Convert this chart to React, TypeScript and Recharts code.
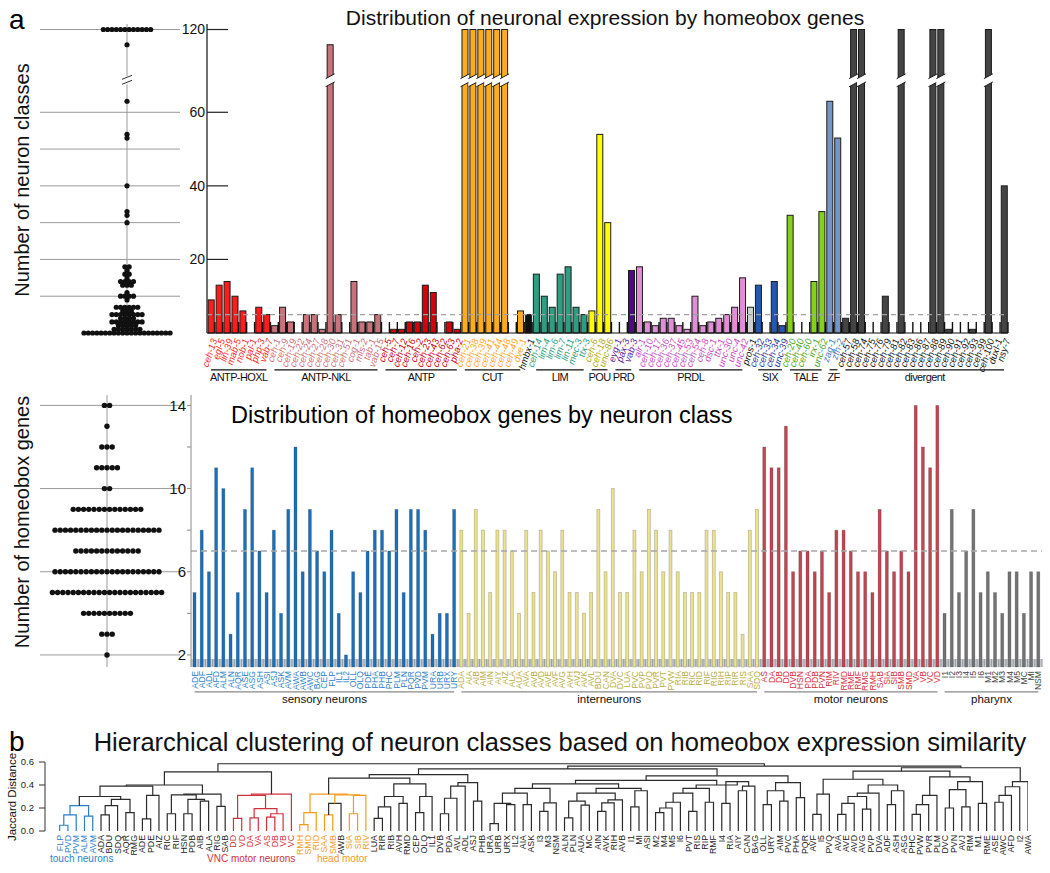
import React from 'react';
import {
  BarChart, Bar, XAxis, YAxis, ReferenceLine, ReferenceArea, ReferenceDot,
  ScatterChart, Scatter,
} from 'recharts';

const FONT = '"Liberation Sans", Arial, Helvetica, sans-serif';

// ---------------- Panel a : homeobox genes ----------------
const antpHoxlGenes = ['ceh-13', 'egl-5', 'lin-39', 'mab-5', 'nob-1', 'pal-1', 'php-3', 'vab-7'];
const antpHoxlCounts = [9, 13, 14, 10, 6, 0, 7, 5];
const antpNklGenes = ['ceh-1', 'ceh-9', 'ceh-19', 'ceh-22', 'ceh-24', 'ceh-27', 'ceh-28', 'ceh-30', 'ceh-31', 'ceh-51', 'cog-1', 'mls-2', 'tab-1', 'vab-15'];
const antpNklCounts = [2, 7, 3, 0, 5, 5, 1, 107, 5, 0, 14, 3, 3, 5];
const antpGenes = ['ceh-5', 'ceh-7', 'ceh-12', 'ceh-16', 'ceh-2', 'ceh-23', 'ceh-43', 'ceh-62', 'ceh-63', 'pha-2'];
const antpCounts = [0, 1, 1, 3, 3, 13, 11, 0, 3, 1];
const cutGenes = ['ceh-21', 'ceh-38', 'ceh-39', 'ceh-41', 'ceh-44', 'ceh-48', 'ceh-49', 'dve-1'];
const cutCounts = [120, 120, 120, 120, 120, 120, 0, 6];
const hmbxGenes = ['hmbx-1'];
const hmbxCounts = [5];
const limGenes = ['ceh-14', 'lim-4', 'lim-6', 'lim-7', 'lin-11', 'mec-3', 'ttx-3'];
const limCounts = [16, 10, 7, 16, 18, 7, 5];
const pouGenes = ['ceh-6', 'ceh-18', 'unc-86'];
const pouCounts = [6, 54, 30];
const prdGenes = ['eyg-1', 'pax-3', 'vab-3'];
const prdCounts = [0, 0, 17];
const prdlGenes = ['alr-1', 'ceh-10', 'ceh-17', 'ceh-36', 'ceh-37', 'ceh-45', 'ceh-53', 'ceh-54', 'ceh-8', 'dsc-1', 'ttx-1', 'unc-30', 'unc-4', 'unc-42'];
const prdlCounts = [18, 3, 2, 4, 4, 2, 1, 10, 2, 3, 4, 5, 7, 15];
const prosGenes = ['pros-1'];
const prosCounts = [7];
const sixGenes = ['ceh-32', 'ceh-33', 'ceh-34', 'unc-39'];
const sixCounts = [13, 0, 14, 2];
const taleGenes = ['ceh-20', 'ceh-40', 'ceh-60', 'irx-1', 'unc-62'];
const taleCounts = [32, 0, 0, 14, 33];
const zfGenes = ['zag-1', 'zfh-2'];
const zfCounts = [63, 53];
const divergentGenes = ['ceh-57', 'ceh-58', 'ceh-74', 'ceh-75', 'ceh-76', 'ceh-79', 'ceh-81', 'ceh-82', 'ceh-83', 'ceh-86', 'ceh-87', 'ceh-88', 'ceh-89', 'ceh-90', 'ceh-91', 'ceh-92', 'ceh-93', 'ceh-99', 'ceh-100', 'duxl-1', 'nsy-7'];
const divergentCounts = [4, 120, 120, 0, 0, 10, 0, 120, 0, 0, 0, 120, 120, 1, 0, 0, 1, 0, 120, 0, 40];

const geneGroups = [
  { family: 'ANTP-HOXL', genes: antpHoxlGenes, counts: antpHoxlCounts, bar: '#ff1c1c', text: '#ff2626' },
  { family: 'ANTP-NKL', genes: antpNklGenes, counts: antpNklCounts, bar: '#c8737c', text: '#c9717c' },
  { family: 'ANTP', genes: antpGenes, counts: antpCounts, bar: '#d6000c', text: '#c8000c' },
  { family: 'CUT', genes: cutGenes, counts: cutCounts, bar: '#ffab1e', text: '#ffa51e' },
  { family: '', genes: hmbxGenes, counts: hmbxCounts, bar: '#111111', text: '#111111' },
  { family: 'LIM', genes: limGenes, counts: limCounts, bar: '#2e9e82', text: '#2e9e82' },
  { family: 'POU', genes: pouGenes, counts: pouCounts, bar: '#ffff00', text: '#b0aa10' },
  { family: 'PRD', genes: prdGenes, counts: prdCounts, bar: '#4c0a86', text: '#5e1898' },
  { family: 'PRDL', genes: prdlGenes, counts: prdlCounts, bar: '#df8fd4', text: '#c54cc0' },
  { family: '', genes: prosGenes, counts: prosCounts, bar: '#cfcfcf', text: '#111111' },
  { family: 'SIX', genes: sixGenes, counts: sixCounts, bar: '#2457b0', text: '#27389a' },
  { family: 'TALE', genes: taleGenes, counts: taleCounts, bar: '#84d01c', text: '#4ba62a' },
  { family: 'ZF', genes: zfGenes, counts: zfCounts, bar: '#7596c4', text: '#4f7cc0' },
  { family: 'divergent', genes: divergentGenes, counts: divergentCounts, bar: '#444444', text: '#111111' },
];

const topGridValues = [10, 20, 30, 40, 50, 60, 120];
const topTickValues = [20, 40, 60, 120];

// broken axis: linear to 65, compressed above
const toDisp = (v: number) => (v <= 65 ? v : 65 + (v - 65) * (17.5 / 55));
const fromDisp = (d: number) => (d <= 65 ? d : 65 + (d - 65) * (55 / 17.5));
const BREAK_LO = 67.6;
const BREAK_HI = 69.8;

const geneRows = geneGroups.flatMap((g) =>
  g.genes.map((name, i) => ({ name, count: g.counts[i], disp: toDisp(g.counts[i]), bar: g.bar, text: g.text })),
);
const geneByName: Record<string, any> = Object.fromEntries(geneRows.map((r) => [r.name, r]));

// ---------------- Panel a : neuron classes ----------------
const sensoryNeurons = ['ADE', 'ADF', 'ADL', 'AFD', 'ALM', 'ALN', 'AQR', 'ASE', 'ASG', 'ASH', 'ASI', 'ASJ', 'ASK', 'AVM', 'AWA', 'AWB', 'AWC', 'BAG', 'CEP', 'FLP', 'IL1', 'IL2', 'OLL', 'OLQ', 'PDE', 'PHA', 'PHB', 'PHC', 'PLM', 'PLN', 'PQR', 'PVD', 'PVM', 'URA', 'URB', 'URX', 'URY'];
const sensoryGenes = [5, 8, 6, 11, 10, 3, 5, 9, 11, 7, 5, 8, 4, 9, 12, 6, 9, 7, 6, 8, 4, 2, 6, 5, 7, 8, 8, 7, 9, 5, 9, 9, 8, 3, 4, 4, 9];
const interNeurons = ['ADA', 'AIA', 'AIB', 'AIM', 'AIN', 'AIY', 'AIZ', 'ALA', 'AUA', 'AVA', 'AVB', 'AVD', 'AVE', 'AVF', 'AVG', 'AVH', 'AVJ', 'AVK', 'AVL', 'BDU', 'CAN', 'DVA', 'DVC', 'LUA', 'PVC', 'PVP', 'PVQ', 'PVR', 'PVT', 'PVW', 'RIA', 'RIB', 'RIC', 'RID', 'RIF', 'RIG', 'RIH', 'RIP', 'RIR', 'RIS', 'SAA', 'SDQ'];
const interGenes = [8, 4, 9, 8, 5, 8, 8, 7, 4, 8, 5, 8, 7, 6, 8, 5, 5, 4, 5, 9, 6, 10, 5, 5, 8, 6, 9, 8, 6, 8, 6, 5, 5, 5, 8, 8, 6, 5, 5, 3, 8, 9];
const motorNeurons = ['AS', 'DA', 'DB', 'DD', 'DVB', 'HSN', 'PDA', 'PDB', 'PVN', 'RIM', 'RIV', 'RMD', 'RME', 'RMF', 'RMG', 'RMH', 'SAB', 'SIA', 'SIB', 'SMB', 'SMD', 'VA', 'VB', 'VC', 'VD'];
const motorGenes = [12, 11, 11, 13, 6, 7, 7, 6, 7, 5, 8, 8, 7, 6, 6, 5, 9, 7, 6, 7, 6, 14, 12, 11, 14];
const pharynxNeurons = ['I1', 'I2', 'I3', 'I4', 'I5', 'I6', 'M1', 'M2', 'M3', 'M4', 'M5', 'MC', 'MI', 'NSM'];
const pharynxGenes = [4, 9, 5, 7, 9, 5, 6, 5, 4, 6, 6, 4, 6, 6];

const neuronGroups = [
  { label: 'sensory neurons', names: sensoryNeurons, values: sensoryGenes, bar: '#1a70ba', text: '#2a7fc9' },
  { label: 'interneurons', names: interNeurons, values: interGenes, bar: '#ebe38c', text: '#b7ad3e' },
  { label: 'motor neurons', names: motorNeurons, values: motorGenes, bar: '#c24552', text: '#d6303f' },
  { label: 'pharynx', names: pharynxNeurons, values: pharynxGenes, bar: '#737373', text: '#444444' },
];
const midGridValues = [2, 6, 10, 14];
const midTickValues = [2, 4, 6, 8, 10, 12, 14];
const midLabelValues = [2, 6, 10, 14];

const neuronRows = neuronGroups.flatMap((g) => g.names.map((name, i) => ({ name, value: g.values[i], bar: g.bar, text: g.text })));
const neuronByName: Record<string, any> = Object.fromEntries(neuronRows.map((r) => [r.name, r]));

// ---------------- Panel b : dendrogram ----------------
const dendroLeaves = ['FLP', 'PVD', 'PVM', 'ALM', 'AVM', 'ADA', 'BDU', 'SDQ', 'AQR', 'RMG', 'ADE', 'PDE', 'AIZ', 'RIC', 'RIF', 'HSN', 'PDB', 'AIB', 'ALA', 'RIG', 'SAB', 'DD', 'VD', 'DA', 'VA', 'AS', 'DB', 'VB', 'VC', 'RMH', 'SMD', 'RID', 'SAA', 'SMB', 'AWB', 'SIA', 'SIB', 'RIV', 'LUA', 'RIR', 'RIB', 'AVH', 'RMD', 'CEP', 'OLQ', 'IL1', 'DVB', 'PDA', 'AVL', 'ADL', 'ASJ', 'PHB', 'URA', 'URB', 'URX', 'IL2', 'AIA', 'ASK', 'I3', 'M3', 'NSM', 'ALN', 'PLN', 'AUA', 'MC', 'AIN', 'AVK', 'RIH', 'AVB', 'I1', 'MI', 'ASI', 'M2', 'M4', 'M5', 'I6', 'PVT', 'RIS', 'RIP', 'RMF', 'I4', 'RIA', 'AIY', 'CAN', 'BAG', 'OLL', 'URY', 'AIM', 'PVC', 'PHA', 'PQR', 'AVF', 'I5', 'PVQ', 'AVA', 'AVE', 'AVD', 'AVG', 'PVP', 'DVA', 'ADF', 'ASH', 'ASG', 'PHC', 'PVW', 'PVR', 'PLM', 'DVC', 'PVN', 'AVJ', 'RIM', 'M1', 'RME', 'ASE', 'AWC', 'AFD', 'I2', 'AWA'];
const touchLeaves = ['FLP', 'PVD', 'PVM', 'ALM', 'AVM'];
const vncLeaves = ['DD', 'VD', 'DA', 'VA', 'AS', 'DB', 'VB', 'VC'];
const headLeaves = ['RMH', 'SMD', 'RID', 'SAA', 'SMB', 'SIA', 'SIB', 'RIV'];
const TOUCH = '#2a7fc9';
const VNC = '#d0303c';
const HEAD = '#f59a1a';
const INK = '#2b2b2b';

type DNode = string | [DNode, DNode, number, string?];
const tTouch: DNode = [[['FLP', 'PVD', 0.05], 'PVM', 0.14], ['ALM', 'AVM', 0.13], 0.22, TOUCH];
const tAda: DNode = [[['ADA', 'BDU', 0.14], 'SDQ', 0.22], ['AQR', 'RMG', 0.16], 0.275];
const tAde: DNode = [['ADE', 'PDE', 0.105], 'AIZ', 0.31];
const tRic: DNode = [[['RIC', 'RIF', 0.15], [['HSN', 'PDB', 0.15], ['AIB', 'ALA', 0.26], 0.275], 0.315], ['RIG', 'SAB', 0.215], 0.32];
const tVnc: DNode = [[['DD', 'VD', 0.11], [['DA', 'VA', 0.115], [['AS', 'DB', 0.12], 'VB', 0.15], 0.195], 0.31], 'VC', 0.32, VNC];
const tLeft: DNode = [[[[tTouch, tAda, 0.3], tAde, 0.39], tRic, 0.4], tVnc, 0.515];
const tHead: DNode = [[['RMH', 'SMD', 0.055], 'RID', 0.16], [[['SAA', 'SMB', 0.14, HEAD], 'AWB', 0.24, INK], [['SIA', 'SIB', 0.15], 'RIV', 0.31], 0.315], 0.32, HEAD];
const tLua: DNode = [[[['LUA', 'RIR', 0.11], 'RIB', 0.21], ['AVH', 'RMD', 0.24], 0.3], [['CEP', 'OLQ', 0.16], 'IL1', 0.3], 0.41];
const gDvb: DNode = [[[['DVB', 'PDA', 0.15], 'AVL', 0.285], 'ADL', 0.39], ['ASJ', 'PHB', 0.26], 0.42];
const gUra: DNode = [[[['URA', 'URB', 0.065], ['URX', 'IL2', 0.23], 0.24], ['AIA', 'ASK', 0.23], 0.33], [['I3', 'M3', 0.17], 'NSM', 0.245], 0.37];
const gAln: DNode = [[[['ALN', 'PLN', 0.115], ['AUA', 'MC', 0.225], 0.26], [[['AIN', 'AVK', 0.17], 'RIH', 0.245], 'AVB', 0.27], 0.33], [['I1', 'MI', 0.21], 'ASI', 0.35], 0.37];
const gM2: DNode = [[[[['M2', 'M4', 0.16], 'M5', 0.2], 'I6', 0.25], ['PVT', 'RIS', 0.17], 0.33], ['RIP', 'RMF', 0.25], 0.37];
const gI4: DNode = [['I4', 'RIA', 0.24], [['AIY', 'CAN', 0.35], 'BAG', 0.39], 0.43];
const gOll: DNode = [[['OLL', 'URY', 0.23], ['AIM', 'PVC', 0.26], 0.35], ['PHA', 'PQR', 0.29], 0.42];
const gAvf: DNode = [[['AVF', 'I5', 0.145], 'PVQ', 0.32], [[[[['AVA', 'AVE', 0.145], 'AVD', 0.24], ['AVG', 'PVP', 0.19], 0.3], 'DVA', 0.33], [['ADF', 'ASH', 0.23], 'ASG', 0.35], 0.4], 0.45];
const gPhc: DNode = [[[['PHC', 'PVW', 0.145], 'PVR', 0.23], 'PLM', 0.31], [[['DVC', 'PVN', 0.2], ['AVJ', 'RIM', 0.21], 0.36], ['M1', 'RME', 0.24], 0.43], 0.47];
const gAse: DNode = [[[['ASE', 'AWC', 0.25], 'AFD', 0.31], 'I2', 0.385], 'AWA', 0.43];
const dendroTree: DNode = [
  tLeft,
  [
    [[[tHead, tLua, 0.46], gDvb, 0.49], [[[gUra, gAln, 0.41], [gM2, gI4, 0.4], 0.44], gOll, 0.48], 0.54],
    [[gAvf, gPhc, 0.52], gAse, 0.55],
    0.565,
  ],
  0.585,
];
const jaccardTicks = [0, 0.1, 0.2, 0.3, 0.4, 0.5, 0.6];

// ---------------- helpers ----------------
function swarm(values: number[], disp: (v: number) => number) {
  const counts: Record<string, number> = {};
  values.forEach((v) => { counts[v] = (counts[v] || 0) + 1; });
  const seen: Record<string, number> = {};
  return values.map((v) => {
    seen[v] = (seen[v] ?? -1) + 1;
    return { x: seen[v] - (counts[v] - 1) / 2, y: disp(v) };
  });
}

const leafIndex: Record<string, number> = Object.fromEntries(dendroLeaves.map((n, i) => [n, i + 1]));
type Link = { pts: { x: number; y: number }[]; color: string };
function layoutTree(node: DNode, color: string, out: Link[]): { x: number; h: number } {
  if (typeof node === 'string') return { x: leafIndex[node], h: 0 };
  const [a, b, h, c] = node;
  const col = c ?? color;
  const A = layoutTree(a, col, out);
  const B = layoutTree(b, col, out);
  out.push({ pts: [{ x: A.x, y: A.h }, { x: A.x, y: h }, { x: B.x, y: h }, { x: B.x, y: B.h }], color: col });
  return { x: (A.x + B.x) / 2, h };
}
const dendroLinks: Link[] = [];
layoutTree(dendroTree, INK, dendroLinks);

const leafColor = (n: string) =>
  touchLeaves.includes(n) ? TOUCH : vncLeaves.includes(n) ? VNC : headLeaves.includes(n) ? HEAD : '#222';

// ---------------- shapes ----------------
function GeneBarShape(props: any) {
  const { x, y, width, height, payload } = props;
  if (!height || height <= 0 || !payload) return <g />;
  const rect = <rect x={x} y={y} width={width} height={height} fill={payload.bar} stroke="#1b1b1b" strokeWidth={1} />;
  if (payload.count <= 65) return rect;
  const unit = height / payload.disp;
  const base = y + height;
  const lo = base - BREAK_LO * unit;
  const hi = base - BREAK_HI * unit;
  const s = 2.4;
  return (
    <g>
      {rect}
      <polygon points={`${x - 1.5},${lo + s} ${x + width + 1.5},${lo - s} ${x + width + 1.5},${hi - s} ${x - 1.5},${hi + s}`} fill="#fff" />
      <line x1={x - 1.5} y1={lo + s} x2={x + width + 1.5} y2={lo - s} stroke="#1b1b1b" strokeWidth={1} />
      <line x1={x - 1.5} y1={hi + s} x2={x + width + 1.5} y2={hi - s} stroke="#1b1b1b" strokeWidth={1} />
    </g>
  );
}

function NeuronBarShape(props: any) {
  const { x, y, width, height, payload } = props;
  if (!height || height <= 0 || !payload) return <g />;
  return <rect x={x} y={y} width={width} height={height} fill={payload.bar} stroke="rgba(0,0,0,0.22)" strokeWidth={0.8} />;
}

function GeneTick(props: any) {
  const { x, y, payload } = props;
  const g = geneByName[payload.value];
  if (!g) return <g />;
  return (
    <g>
      <line x1={x + 3.96} x2={x + 3.96} y1={y} y2={y - 11} stroke="#111" strokeWidth={1.4} />
      <text transform={`translate(${x + 3},${y + 6}) rotate(-72)`} textAnchor="end" dominantBaseline="central" fontSize={9.5} fontStyle="italic" fill={g.text} fontFamily={FONT}>
        {g.name}
      </text>
    </g>
  );
}

function NeuronTick(props: any) {
  const { x, y, payload } = props;
  const n = neuronByName[payload.value];
  if (!n) return <g />;
  return (
    <g>
      <line x1={x + 3.6} x2={x + 3.6} y1={y} y2={y - 8} stroke="#9aa0a8" strokeWidth={1.2} />
      <text transform={`translate(${x},${y + 4}) rotate(-90)`} textAnchor="end" dominantBaseline="central" fontSize={8.6} fill={n.text} fontFamily={FONT}>
        {n.name}
      </text>
    </g>
  );
}

function LeafTick(props: any) {
  const { x, y, payload } = props;
  const name = dendroLeaves[payload.value - 1];
  if (!name) return <g />;
  return (
    <text transform={`translate(${x},${y + 4}) rotate(-90)`} textAnchor="end" dominantBaseline="central" fontSize={8.8} fill={leafColor(name)} fontFamily={FONT}>
      {name}
    </text>
  );
}

function InwardTick(props: any) {
  const { x, y } = props;
  return <line x1={x} x2={x + 21} y1={y} y2={y} stroke="#222" strokeWidth={1.2} />;
}

const Dot = (r: number) => (props: any) => <circle cx={props.cx} cy={props.cy} r={r} fill="#111" />;
const NoShape = () => <g />;

function AxisBreak(props: any) {
  const { cx, cy } = props;
  return (
    <g>
      <rect x={cx - 5} y={cy - 4} width={10} height={8} fill="#fff" />
      <line x1={cx - 5} y1={cy - 1} x2={cx + 5} y2={cy - 5} stroke="#333" strokeWidth={1} />
      <line x1={cx - 5} y1={cy + 4} x2={cx + 5} y2={cy} stroke="#333" strokeWidth={1} />
    </g>
  );
}

const abs = (left: number, top: number): React.CSSProperties => ({ position: 'absolute', left, top });
const rotLabel = (cx: number, cy: number, size: number): React.CSSProperties => ({
  position: 'absolute', left: cx, top: cy, transform: 'translate(-50%,-50%) rotate(-90deg)', whiteSpace: 'nowrap', fontSize: size, color: '#111',
});
const centered = (cx: number, top: number, size: number): React.CSSProperties => ({
  position: 'absolute', left: cx, top, transform: 'translateX(-50%)', whiteSpace: 'nowrap', fontSize: size, color: '#111',
});

const topSwarm = swarm(geneRows.map((r) => r.count), toDisp);
const midSwarm = swarm(neuronRows.map((r) => r.value), (v) => v);
const topGroupsWithLabel = geneGroups.filter((g) => g.family);

export default function App() {
  return (
    <div style={{ position: 'absolute', left: 0, top: 0, width: 1050, height: 873, background: '#fff', fontFamily: FONT, overflow: 'hidden' }}>
      {/* ---------- headings ---------- */}
      <div style={{ ...abs(9, 4), fontSize: 28 }}>a</div>
      <div style={centered(605, 6, 21)}>Distribution of neuronal expression by homeobox genes</div>
      <div style={rotLabel(22, 180, 20)}>Number of neuron classes</div>
      <div style={{ ...abs(231, 402), fontSize: 23.5, whiteSpace: 'nowrap' }}>Distribution of homeobox genes by neuron class</div>
      <div style={rotLabel(22, 522, 20)}>Number of homeobox genes</div>
      <div style={{ ...abs(9, 726), fontSize: 28 }}>b</div>
      <div style={centered(560, 728, 25.5)}>Hierarchical clustering of neuron classes based on homeobox expression similarity</div>
      <div style={rotLabel(12, 797, 11.5)}>Jaccard Distance</div>

      {/* ---------- top swarm ---------- */}
      <div style={abs(0, 0)}>
        <ScatterChart width={210} height={400} margin={{ top: 24, right: 0, left: 40, bottom: 67 }}>
          <XAxis type="number" dataKey="x" domain={[-20.2, 12.3]} hide />
          <YAxis type="number" dataKey="y" orientation="right" width={30} domain={[0, 84]} ticks={topTickValues.map(toDisp)}
            tickFormatter={(v: number) => String(Math.round(fromDisp(v)))} axisLine={false} tickLine={false} tickSize={0} tickMargin={25}
            tick={{ fontSize: 14, fill: '#111', textAnchor: 'end' }} />
          {topGridValues.map((v) => (
            <ReferenceLine key={v} y={toDisp(v)} stroke="#9a9a9a" strokeWidth={1} />
          ))}
          <ReferenceLine x={0} stroke="#9a9a9a" strokeWidth={1} />
          <ReferenceDot x={0} y={(BREAK_LO + BREAK_HI) / 2} r={1} shape={AxisBreak} />
          <Scatter data={topSwarm} shape={Dot(2.6)} isAnimationActive={false} />
        </ScatterChart>
      </div>

      {/* ---------- top bars ---------- */}
      <div style={abs(0, 0)}>
        <BarChart width={1050} height={400} data={geneRows} margin={{ top: 24, right: 42, left: 197, bottom: 0 }} barCategoryGap={1.2}>
          <XAxis dataKey="name" interval={0} height={67} tickSize={0} tickMargin={0} tick={GeneTick} axisLine={{ stroke: '#111', strokeWidth: 1.2 }} tickLine={false} />
          <YAxis type="number" domain={[0, 84]} width={10} ticks={topTickValues.map(toDisp)} tick={InwardTick} tickSize={0} tickMargin={0}
            axisLine={{ stroke: '#111', strokeWidth: 1.2 }} tickLine={false} />
          <Bar dataKey="disp" shape={GeneBarShape} isAnimationActive={false} />
          <ReferenceLine y={5} stroke="#a0a0a0" strokeDasharray="5 4" strokeWidth={1.2} />
          {topGroupsWithLabel.map((g) => (
            <ReferenceLine key={g.family} ifOverflow="visible" stroke="#111" strokeWidth={1.2}
              segment={[{ x: g.genes[0], y: -10 }, { x: g.genes[g.genes.length - 1], y: -10 }]}
              label={{ value: g.family, position: 'bottom', offset: 3, fontSize: 11, fill: '#111', letterSpacing: -0.6 }} />
          ))}
        </BarChart>
      </div>

      {/* ---------- middle swarm ---------- */}
      <div style={abs(0, 380)}>
        <ScatterChart width={190} height={340} margin={{ top: 15, right: 10, left: 40, bottom: 53 }}>
          <XAxis type="number" dataKey="x" domain={[-67 / 5.2, 73 / 5.2]} hide />
          <YAxis type="number" dataKey="y" domain={[1.42, 14.5]} hide />
          {midGridValues.map((v) => (
            <ReferenceLine key={v} y={v} stroke="#9a9a9a" strokeWidth={1} />
          ))}
          <ReferenceLine x={0} stroke="#9a9a9a" strokeWidth={1} />
          <Scatter data={midSwarm} shape={Dot(2.7)} isAnimationActive={false} />
        </ScatterChart>
      </div>

      {/* ---------- middle bars ---------- */}
      <div style={abs(0, 380)}>
        <BarChart width={1050} height={340} data={neuronRows} margin={{ top: 15, right: 8, left: 151, bottom: 0 }} barCategoryGap={2}>
          <XAxis dataKey="name" interval={0} height={53} tickSize={0} tickMargin={0} tick={NeuronTick} axisLine={false} tickLine={false} />
          <YAxis type="number" domain={[1.42, 14.5]} width={40} ticks={midTickValues}
            tickFormatter={(v: number) => (midLabelValues.includes(v) ? String(v) : '')}
            axisLine={{ stroke: '#8a8a8a' }} tickLine={{ stroke: '#8a8a8a' }} tickSize={4} tickMargin={1}
            tick={{ fontSize: 15, fill: '#111' }} />
          <Bar dataKey="value" shape={NeuronBarShape} isAnimationActive={false} />
          <ReferenceArea y1={1.42} y2={1.8} fill="#9aa2ad" fillOpacity={0.5} stroke="none" />
          <ReferenceLine y={7} stroke="#a8a8a8" strokeDasharray="6 4" strokeWidth={1.5} />
          {neuronGroups.map((g) => (
            <ReferenceLine key={g.label} ifOverflow="visible" stroke="#8a8a8a" strokeWidth={1.2}
              segment={[{ x: g.names[0], y: 0.22 }, { x: g.names[g.names.length - 1], y: 0.22 }]}
              label={{ value: g.label, position: 'bottom', offset: 3, fontSize: 11.5, fill: '#111' }} />
          ))}
        </BarChart>
      </div>

      {/* ---------- dendrogram ---------- */}
      <div style={abs(0, 740)}>
        <ScatterChart width={1050} height={133} margin={{ top: 22, right: 22, left: 0, bottom: 0 }}>
          <XAxis type="number" dataKey="x" domain={[-0.77, 118]} ticks={dendroLeaves.map((_, i) => i + 1)} interval={0}
            height={42} tickSize={0} tickMargin={0} tick={LeafTick} axisLine={false} tickLine={false} allowDataOverflow />
          <YAxis type="number" dataKey="y" domain={[0, 0.6]} ticks={jaccardTicks} width={45} tickFormatter={(v: number) => v.toFixed(1)}
            tick={{ fontSize: 9.5, fill: '#222' }} tickSize={6} tickMargin={5} axisLine={{ stroke: '#333' }} tickLine={{ stroke: '#333' }} />
          {dendroLinks.map((l, i) => (
            <Scatter key={i} data={l.pts} line={{ stroke: l.color, strokeWidth: 1.2 }} lineType="joint" shape={NoShape} isAnimationActive={false} />
          ))}
        </ScatterChart>
      </div>
      <div style={{ ...abs(50, 853), fontSize: 10, color: TOUCH, whiteSpace: 'nowrap' }}>touch neurons</div>
      <div style={{ ...abs(207, 853), fontSize: 10, color: VNC, whiteSpace: 'nowrap' }}>VNC motor neurons</div>
      <div style={{ ...abs(317, 853), fontSize: 10, color: HEAD, whiteSpace: 'nowrap' }}>head motor</div>
    </div>
  );
}
